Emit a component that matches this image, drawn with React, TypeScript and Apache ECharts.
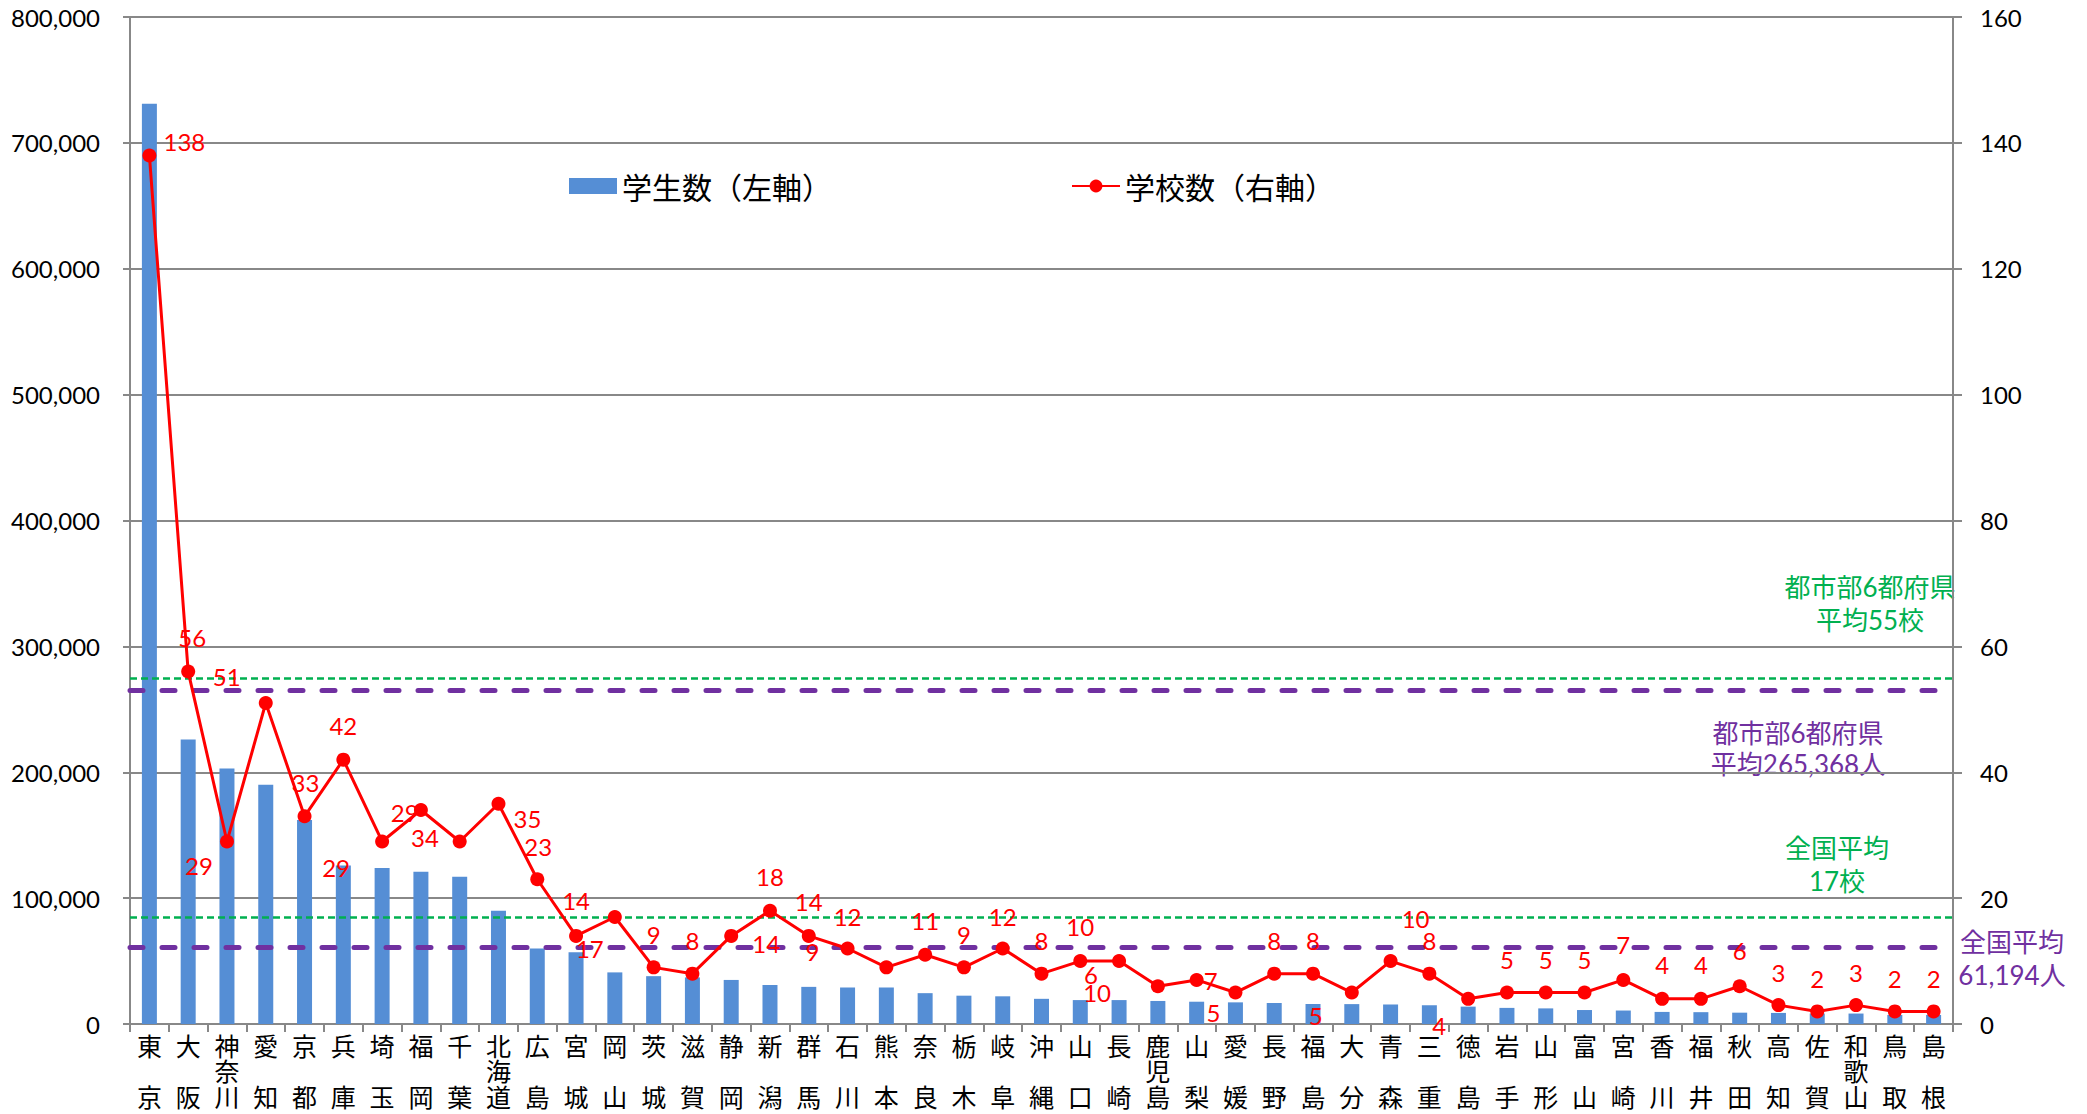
import React, { useEffect, useRef } from "react";
import * as echarts from "echarts";

// Prefectures, ordered by number of students
const prefectures = [
  "東京", "大阪", "神奈川", "愛知", "京都", "兵庫", "埼玉", "福岡", "千葉", "北海道",
  "広島", "宮城", "岡山", "茨城", "滋賀", "静岡", "新潟", "群馬", "石川", "熊本",
  "奈良", "栃木", "岐阜", "沖縄", "山口", "長崎", "鹿児島", "山梨", "愛媛", "長野",
  "福島", "大分", "青森", "三重", "徳島", "岩手", "山形", "富山", "宮崎", "香川",
  "福井", "秋田", "高知", "佐賀", "和歌山", "鳥取", "島根",
];

// 学生数 (left axis)
const students = [
  731000, 226000, 203000, 190000, 162000, 126000, 124000, 121000, 117000, 90000,
  60000, 57000, 41000, 38000, 37000, 35000, 31000, 29500, 29000, 29000,
  24500, 22500, 22000, 20000, 19000, 19000, 18300, 17700, 17200, 16700,
  15900, 15800, 15500, 14900, 13800, 12800, 12400, 11100, 10700, 9600,
  9400, 9000, 8800, 8300, 8300, 7200, 7200,
];

// 学校数 (right axis)
const schools = [
  138, 56, 29, 51, 33, 42, 29, 34, 29, 35,
  23, 14, 17, 9, 8, 14, 18, 14, 12, 9,
  11, 9, 12, 8, 10, 10, 6, 7, 5, 8,
  8, 5, 10, 8, 4, 5, 5, 5, 7, 4,
  4, 6, 3, 2, 3, 2, 2,
];

// Averages drawn as reference lines
const urbanAvgStudents = 265368;
const nationalAvgStudents = 61194;
const urbanAvgSchools = 55;
const nationalAvgSchools = 17;

// Left / right axis ticks
const leftTicks = { min: 0, max: 800000, interval: 100000 };
const rightTicks = { min: 0, max: 160, interval: 20 };

// Where each school-count label sits relative to its point [dx, dy]
const labelOffsets: [number, number][] = [
  [35, -14], [4, -34], [-28, 24], [-39, -27], [1, -34], [0, -34], [-46, 26], [4, 27], [-55, -29], [29, 15],
  [1, -33], [0, -35], [-25, 31], [0, -33], [0, -33], [35, 8], [0, -34], [0, -34], [0, -32], [-74, -16],
  [0, -34], [0, -33], [0, -32], [0, -33], [0, -35], [-22, 31], [-67, -12], [14, 1], [-22, 20], [0, -33],
  [0, -33], [-36, 23], [25, -43], [0, -33], [-29, 27], [0, -33], [0, -33], [0, -33], [0, -35], [0, -34],
  [0, -34], [0, -36], [0, -33], [0, -33], [0, -33], [0, -33], [0, -33],
];

const GRID = "#888888";
const BLUE = "#558ED5";
const RED = "#FF0000";
const PURPLE = "#7030A0";
const GREEN = "#00B050";
const NUM_FONT = "Lato";
const JP_FONT = '"Noto Sans CJK JP"';
const MIX_FONT = 'Lato, "Noto Sans CJK JP", sans-serif';

// Prefecture names are written top to bottom; two-character names are spread
// over the same three rows as the longer ones.
function stackName(name: string): string {
  const chars = name.split("");
  if (chars.length === 2) return `${chars[0]}\n\n${chars[1]}`;
  return chars.join("\n");
}

export default function App() {
  const ref = useRef<HTMLDivElement>(null);

  useEffect(() => {
    if (!ref.current) return;
    const chart = echarts.init(ref.current, undefined, { renderer: "svg" });

    const noteStyle = (fill: string, lineHeight: number) => ({
      fill,
      fontSize: 26,
      fontFamily: MIX_FONT,
      align: "center",
      verticalAlign: "middle",
      lineHeight,
    });

    chart.setOption({
      animation: false,
      backgroundColor: "#ffffff",
      grid: { left: 130, right: 134, top: 17, bottom: 90, containLabel: false },
      legend: {
        left: 564,
        top: 166,
        itemWidth: 48,
        itemHeight: 16,
        itemGap: 239,
        textStyle: { fontSize: 30, fontFamily: JP_FONT, color: "#000" },
        data: [
          { name: "学生数（左軸）", icon: "rect" },
          { name: "学校数（右軸）" },
        ],
      },
      xAxis: {
        type: "category",
        data: prefectures,
        boundaryGap: true,
        axisLine: { lineStyle: { color: GRID, width: 2 } },
        axisTick: { show: true, length: 8, lineStyle: { color: GRID, width: 2 } },
        axisLabel: {
          interval: 0,
          margin: 8,
          fontSize: 25,
          lineHeight: 25.5,
          fontFamily: JP_FONT,
          color: "#000",
          formatter: (v: string) => stackName(v),
        },
      },
      yAxis: [
        {
          type: "value",
          position: "left",
          ...leftTicks,
          axisLine: { show: true, lineStyle: { color: GRID, width: 2 } },
          axisTick: { show: true, length: 7, lineStyle: { color: GRID, width: 2 } },
          splitLine: { show: true, lineStyle: { color: GRID, width: 2 } },
          axisLabel: {
            margin: 30,
            fontSize: 24,
            fontFamily: NUM_FONT,
            color: "#000",
            formatter: (v: number) => v.toLocaleString("en-US"),
          },
        },
        {
          type: "value",
          position: "right",
          ...rightTicks,
          axisLine: { show: true, lineStyle: { color: GRID, width: 2 } },
          axisTick: { show: true, length: 9, lineStyle: { color: GRID, width: 2 } },
          splitLine: { show: false },
          axisLabel: {
            margin: 27,
            fontSize: 24,
            fontFamily: NUM_FONT,
            color: "#000",
          },
        },
      ],
      series: [
        {
          name: "学生数（左軸）",
          type: "bar",
          yAxisIndex: 0,
          barWidth: 15,
          data: students,
          itemStyle: { color: BLUE },
          z: 2,
          markLine: {
            silent: true,
            symbol: "none",
            label: { show: false },
            lineStyle: { color: PURPLE, width: 5, type: [13, 19], cap: "round" },
            data: [{ yAxis: urbanAvgStudents }, { yAxis: nationalAvgStudents }],
          },
        },
        {
          name: "学校数（右軸）",
          type: "line",
          yAxisIndex: 1,
          z: 5,
          data: schools.map((v, i) => ({
            value: v,
            label: { offset: labelOffsets[i] },
          })),
          symbol: "circle",
          symbolSize: 14,
          itemStyle: { color: RED },
          lineStyle: { color: RED, width: 3 },
          label: {
            show: true,
            position: "inside",
            color: RED,
            fontSize: 24,
            fontFamily: NUM_FONT,
          },
          markLine: {
            silent: true,
            symbol: "none",
            label: { show: false },
            lineStyle: { color: GREEN, width: 2.5, type: [7, 4] },
            data: [{ yAxis: urbanAvgSchools }, { yAxis: nationalAvgSchools }],
          },
        },
      ],
      graphic: [
        {
          type: "text",
          x: 1870,
          y: 603,
          style: { text: "都市部6都府県\n平均55校", ...noteStyle(GREEN, 33) },
        },
        {
          type: "text",
          x: 1798,
          y: 748,
          style: { text: "都市部6都府県\n平均265,368人", ...noteStyle(PURPLE, 31) },
        },
        {
          type: "text",
          x: 1837,
          y: 864,
          style: { text: "全国平均\n17校", ...noteStyle(GREEN, 33) },
        },
        {
          type: "text",
          x: 2012,
          y: 958,
          style: { text: "全国平均\n61,194人", ...noteStyle(PURPLE, 33) },
        },
      ],
    });

    return () => chart.dispose();
  }, []);

  return (
    <div
      ref={ref}
      style={{
        position: "fixed",
        left: 0,
        top: 0,
        width: 2087,
        height: 1114,
        background: "#ffffff",
      }}
    />
  );
}
